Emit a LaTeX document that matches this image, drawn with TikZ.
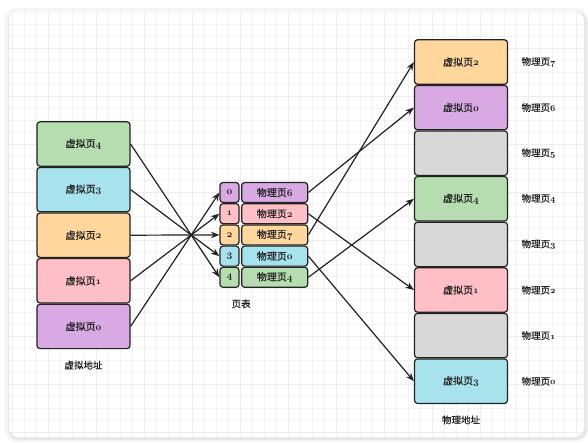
\documentclass[tikz,border=0pt]{standalone}
\usepackage{fontspec}
\setmainfont{Noto Sans CJK SC}[FakeBold=0.35]
\usetikzlibrary{positioning, arrows.meta}
\definecolor{pagegreen}{HTML}{B6DDB0}
\definecolor{pagecyan}{HTML}{A6E3EC}
\definecolor{pageorange}{HTML}{FFD69B}
\definecolor{pagepink}{HTML}{FFBFC7}
\definecolor{pagepurple}{HTML}{D8A9E2}
\definecolor{pagegray}{HTML}{D8D8D8}
\definecolor{inkdark}{HTML}{222222}
\definecolor{gridgray}{HTML}{F3F3F3}
% old-style figures as in the reference
\newcommand\osnum[1]{{\usefont{OML}{cmm}{b}{it}#1}}

\tikzset{
  pagebox/.style={draw=inkdark, line width=1.2pt, rounded corners=3pt,
        minimum width=93pt, minimum height=44.4pt, inner sep=0pt,
        font=\fontsize{10}{12}\selectfont, text=inkdark},
  idxbox/.style={pagebox, minimum width=19pt, minimum height=20pt},
  ptebox/.style={pagebox, minimum width=66pt, minimum height=20pt},
  sidelabel/.style={font=\fontsize{9.5}{11}\selectfont, text=inkdark},
  maparrow/.style={draw=inkdark, line width=1.2pt, -{Stealth[length=8.5pt, width=6.5pt]}}
}

\begin{document}
\begin{tikzpicture}[x=1pt, y=-1pt]
  \useasboundingbox (0,0) rectangle (588,442);

  % frame with a soft shadow and the grid
  \fill[white] (0,0) rectangle (588,442);
  \fill[black, opacity=0.04, rounded corners=12pt] (5,8) rectangle (588,442);
  \fill[black, opacity=0.06, rounded corners=11pt] (8,11) rectangle (587,440);
  \fill[white, rounded corners=10pt] (9,11) rectangle (584,437);
  \begin{scope}
    \clip[rounded corners=10pt] (9,11) rectangle (584,437);
    \draw[gridgray, line width=0.5pt, step=12pt] (0,0) grid (588,442);
    \draw[black!7, line width=0.5pt, step=48pt] (0,0) grid (588,442);
  \end{scope}

  % virtual address space
  \node[pagebox, fill=pagegreen] (v4) at (83.5,144) {虚拟页\osnum{4}};
  \node[pagebox, fill=pagecyan, below=0pt of v4] (v3) {虚拟页\osnum{3}};
  \node[pagebox, fill=pageorange, below=0pt of v3] (v2) {虚拟页\osnum{2}};
  \node[pagebox, fill=pagepink, below=0pt of v2] (v1) {虚拟页\osnum{1}};
  \node[pagebox, fill=pagepurple, below=0pt of v1] (v0) {虚拟页\osnum{0}};
  \node[sidelabel, below=8pt of v0] (vlabel) {虚拟地址};

  % page table
  \node[idxbox, fill=pagepurple] (idx0) at (229.5,192.5) {\osnum{0}};
  \node[idxbox, fill=pagepink, below=0pt of idx0] (idx1) {\osnum{1}};
  \node[idxbox, fill=pageorange, below=0pt of idx1] (idx2) {\osnum{2}};
  \node[idxbox, fill=pagecyan, below=0pt of idx2] (idx3) {\osnum{3}};
  \node[idxbox, fill=pagegreen, below=0pt of idx3] (idx4) {\osnum{4}};
  \node[ptebox, fill=pagepurple, right=1.5pt of idx0] (pte0) {物理页\osnum{6}};
  \node[ptebox, fill=pagepink, right=1.5pt of idx1] (pte1) {物理页\osnum{2}};
  \node[ptebox, fill=pageorange, right=1.5pt of idx2] (pte2) {物理页\osnum{7}};
  \node[ptebox, fill=pagecyan, right=1.5pt of idx3] (pte3) {物理页\osnum{0}};
  \node[ptebox, fill=pagegreen, right=1.5pt of idx4] (pte4) {物理页\osnum{4}};
  \node[sidelabel, below=8pt of pte4.south west] (tlabel) {页表};

  % physical memory
  \node[pagebox, fill=pageorange] (m7) at (461,62) {虚拟页\osnum{2}};
  \node[pagebox, fill=pagepurple, below=0pt of m7] (m6) {虚拟页\osnum{0}};
  \node[pagebox, fill=pagegray, below=0pt of m6] (m5) {};
  \node[pagebox, fill=pagegreen, below=0pt of m5] (m4) {虚拟页\osnum{4}};
  \node[pagebox, fill=pagegray, below=0pt of m4] (m3) {};
  \node[pagebox, fill=pagepink, below=0pt of m3] (m2) {虚拟页\osnum{1}};
  \node[pagebox, fill=pagegray, below=0pt of m2] (m1) {};
  \node[pagebox, fill=pagecyan, below=0pt of m1] (m0) {虚拟页\osnum{3}};
  \node[sidelabel, below=8pt of m0] (mlabel) {物理地址};

  \node[sidelabel, right=10pt of m7] (ml7) {物理页\osnum{7}};
  \node[sidelabel, right=10pt of m6] (ml6) {物理页\osnum{6}};
  \node[sidelabel, right=10pt of m5] (ml5) {物理页\osnum{5}};
  \node[sidelabel, right=10pt of m4] (ml4) {物理页\osnum{4}};
  \node[sidelabel, right=10pt of m3] (ml3) {物理页\osnum{3}};
  \node[sidelabel, right=10pt of m2] (ml2) {物理页\osnum{2}};
  \node[sidelabel, right=10pt of m1] (ml1) {物理页\osnum{1}};
  \node[sidelabel, right=10pt of m0] (ml0) {物理页\osnum{0}};

  % virtual page -> page table entry
  \draw[maparrow] (v4.east) -- (idx4.west);
  \draw[maparrow] (v3.east) -- (idx3.west);
  \draw[maparrow] (v2.east) -- (idx2.west);
  \draw[maparrow] (v1.east) -- (idx1.west);
  \draw[maparrow] (v0.east) -- (idx0.west);

  % page table entry -> physical page
  \draw[maparrow] (pte0.east) -- (m6.west);
  \draw[maparrow] (pte1.east) -- (m2.west);
  \draw[maparrow] (pte2.east) -- (m7.west);
  \draw[maparrow] (pte3.east) -- (m0.west);
  \draw[maparrow] (pte4.east) -- (m4.west);
\end{tikzpicture}
\end{document}
